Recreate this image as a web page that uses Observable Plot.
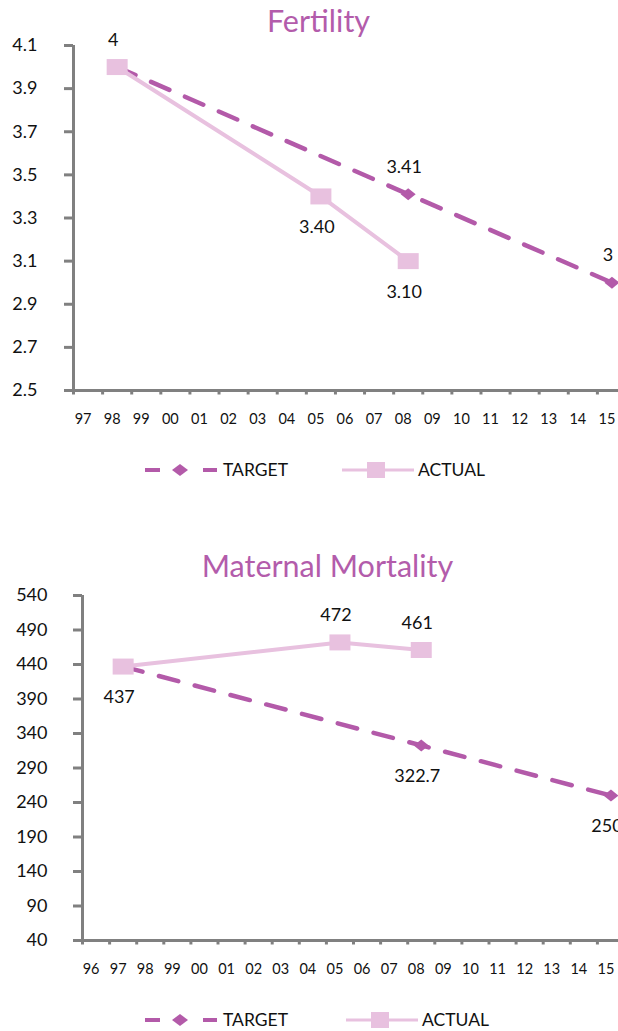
<!DOCTYPE html>
<html><head><meta charset="utf-8">
<script src="https://cdn.jsdelivr.net/npm/d3@7"></script>
<script src="https://cdn.jsdelivr.net/npm/@observablehq/plot@0.6"></script>
<style>
body{margin:0;width:618px;height:1031px;overflow:hidden;position:relative;background:#fff;font-family:Lato,sans-serif;color:#111;}
.title{position:absolute;text-align:center;color:#b35cab;font-size:30.5px;line-height:30.5px;white-space:nowrap;}
.chart{position:absolute;left:0;}
.lg{position:absolute;font-size:17.5px;line-height:20px;height:20px;white-space:nowrap;}
.lg svg{position:absolute;top:0;}
.lg span{position:absolute;top:0;}
</style></head>
<body>
<div id="c1" class="chart" style="top:28px"></div>
<div class="title" style="left:168.5px;width:300px;top:5px">Fertility</div>
<div class="lg" style="left:0;top:460px;width:618px" id="lg1"></div>
<div id="c2" class="chart" style="top:575px"></div>
<div class="title" style="left:177.5px;width:300px;top:550px">Maternal Mortality</div>
<div class="lg" style="left:0;top:1010px;width:618px" id="lg2"></div>
<script>
const targetColor = "#b35aa9";
const actualColor = "#e8c1df";
const axisColor = "#808080";

// Fertility
const fertYears = ["97","98","99","00","01","02","03","04","05","06","07","08","09","10","11","12","13","14","15"];
const fertYTicks = [2.5,2.7,2.9,3.1,3.3,3.5,3.7,3.9,4.1];
const fertTargetYears = ["98","08","15"];
const fertTargetValues = [4, 3.41, 3];
const fertTargetLabels = ["", "3.41", "3"];
const fertTargetLabelSide = ["above","above","above"];
const fertActualYears = ["98","05","08"];
const fertActualValues = [4, 3.40, 3.10];
const fertActualLabels = ["4", "3.40", "3.10"];
const fertActualLabelSide = ["above","below","below"];

// Maternal Mortality
const mmYears = ["96","97","98","99","00","01","02","03","04","05","06","07","08","09","10","11","12","13","14","15"];
const mmYTicks = [40,90,140,190,240,290,340,390,440,490,540];
const mmTargetYears = ["97","08","15"];
const mmTargetValues = [437, 322.7, 250];
const mmTargetLabels = ["", "322.7", "250"];
const mmTargetLabelSide = ["below","below","below"];
const mmActualYears = ["97","05","08"];
const mmActualValues = [437, 472, 461];
const mmActualLabels = ["437", "472", "461"];
const mmActualLabelSide = ["below","above","above"];

const rectSymbol = (w, h) => ({draw(ctx) { ctx.moveTo(-w/2, -h/2); ctx.lineTo(w/2, -h/2); ctx.lineTo(w/2, h/2); ctx.lineTo(-w/2, h/2); ctx.closePath(); }});
const diamondSymbol = (w, h) => ({draw(ctx) { ctx.moveTo(0, -h/2); ctx.lineTo(w/2, 0); ctx.lineTo(0, h/2); ctx.lineTo(-w/2, 0); ctx.closePath(); }});

function series(years, yrs, vals, labels, sides, name) {
  return yrs.map((yr, i) => ({x: years.indexOf(yr), y: vals[i], label: labels[i], side: sides[i], name}));
}

function chart(cfg) {
  const {years, yDomain, yTicks, yFmt, T, A, axisX, xEnd, height, marginTop, marginBottom, tickPad} = cfg;
  const n = years.length;
  const all = [...T, ...A].filter(d => d.label);
  const lab = {fontSize: 18, fill: "#111", dx: -4};
  return Plot.plot({
    width: 618, height, marginLeft: axisX, marginRight: 0, marginTop, marginBottom,
    style: {background: "transparent", fontFamily: "Lato", overflow: "hidden"},
    x: {domain: [-0.5, n - 0.5], range: [axisX, xEnd]},
    y: {domain: yDomain},
    marks: [
      Plot.axisY({ticks: yTicks, tickFormat: yFmt, tickSize: 9, tickPadding: tickPad, stroke: axisColor, strokeWidth: 3, fill: "#111", fontSize: 18, label: null}),
      Plot.axisX({ticks: d3.range(n + 1).map(i => i - 0.5), tickSize: 4.5, tickFormat: () => "", stroke: axisColor, strokeWidth: 3, label: null}),
      Plot.axisX({ticks: d3.range(n), tickSize: 0, tickPadding: 23, tickFormat: i => years[i], fontSize: 14.5, fill: "#111", dx: -5, label: null}),
      Plot.ruleX([-0.5], {y1: yDomain[0], y2: yDomain[1], stroke: axisColor, strokeWidth: 3}),
      Plot.ruleY([yDomain[0]], {x1: -0.5, x2: n - 0.5, stroke: axisColor, strokeWidth: 3}),
      Plot.line(T, {x: "x", y: "y", stroke: targetColor, strokeWidth: 4.5, strokeDasharray: "20,17"}),
      Plot.dot(T, {x: "x", y: "y", symbol: diamondSymbol(15, 12), r: 5, fill: targetColor, stroke: null}),
      Plot.line(A, {x: "x", y: "y", stroke: actualColor, strokeWidth: 4}),
      Plot.dot(A, {x: "x", y: "y", symbol: rectSymbol(21, 16), r: 8, fill: actualColor, stroke: null}),
      Plot.text(all.filter(d => d.side === "above"), {x: "x", y: "y", text: "label", dy: -27, ...lab}),
      Plot.text(all.filter(d => d.side === "below"), {x: "x", y: "y", text: "label", dy: 31, ...lab})
    ]
  });
}

document.getElementById("c1").append(chart({
  years: fertYears, yDomain: [2.5, 4.1], yTicks: fertYTicks, yFmt: d => d.toFixed(1),
  T: series(fertYears, fertTargetYears, fertTargetValues, fertTargetLabels, fertTargetLabelSide, "TARGET"),
  A: series(fertYears, fertActualYears, fertActualValues, fertActualLabels, fertActualLabelSide, "ACTUAL"),
  axisX: 73, xEnd: 626, height: 412, marginTop: 17, marginBottom: 50, tickPad: 27
}));
document.getElementById("c2").append(chart({
  years: mmYears, yDomain: [40, 540], yTicks: mmYTicks, yFmt: d => String(d),
  T: series(mmYears, mmTargetYears, mmTargetValues, mmTargetLabels, mmTargetLabelSide, "TARGET"),
  A: series(mmYears, mmActualYears, mmActualValues, mmActualLabels, mmActualLabelSide, "ACTUAL"),
  axisX: 82, xEnd: 624, height: 415, marginTop: 20, marginBottom: 50, tickPad: 26
}));

function legend(el, tx, ax, axText) {
  el.innerHTML =
    `<svg style="left:${tx}px" width="74" height="20"><line x1="0" y1="10" x2="15" y2="10" stroke="${targetColor}" stroke-width="4"/><path d="M35 4 L43 10 L35 16 L27 10 Z" fill="${targetColor}"/><line x1="58" y1="10" x2="72" y2="10" stroke="${targetColor}" stroke-width="4"/></svg>` +
    `<span style="left:${tx + 78}px">TARGET</span>` +
    `<svg style="left:${ax}px" width="72" height="20"><line x1="0" y1="10" x2="72" y2="10" stroke="${actualColor}" stroke-width="3"/><rect x="25" y="2" width="18" height="16" fill="${actualColor}"/></svg>` +
    `<span style="left:${axText}px">ACTUAL</span>`;
}
legend(document.getElementById("lg1"), 145, 342, 418);
legend(document.getElementById("lg2"), 145, 346, 422);
</script>
</body></html>
